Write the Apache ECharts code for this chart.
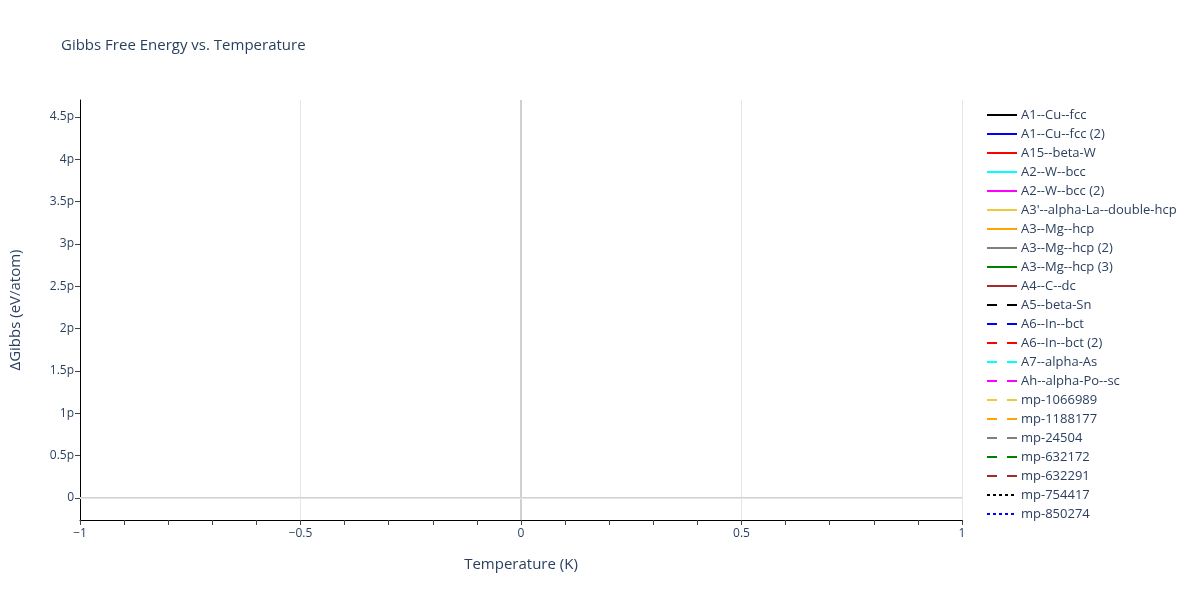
<!DOCTYPE html>
<html><head><meta charset="utf-8">
<script src="https://cdn.jsdelivr.net/npm/echarts@6/dist/echarts.min.js"></script>
<style>html,body{margin:0;padding:0;background:#fff}#c{width:1200px;height:600px}</style>
</head><body><div id="c"></div>
<script>
// Series names, colours and dash styles (from legend)
const seriesNames = ["A1--Cu--fcc","A1--Cu--fcc (2)","A15--beta-W","A2--W--bcc","A2--W--bcc (2)","A3'--alpha-La--double-hcp","A3--Mg--hcp","A3--Mg--hcp (2)","A3--Mg--hcp (3)","A4--C--dc","A5--beta-Sn","A6--In--bct","A6--In--bct (2)","A7--alpha-As","Ah--alpha-Po--sc","mp-1066989","mp-1188177","mp-24504","mp-632172","mp-632291","mp-754417","mp-850274"];
const seriesColors = ["#000000","#0000ff","#ff0000","#00ffff","#ff00ff","#f0c83c","#ffa500","#808080","#008000","#a52a2a","#000000","#0000ff","#ff0000","#00ffff","#ff00ff","#f0c83c","#ffa500","#808080","#008000","#a52a2a","#000000","#0000ff"];
const seriesDash = ["solid","solid","solid","solid","solid","solid","solid","solid","solid","solid",[10,10],[10,10],[10,10],[10,10],[10,10],[10,10],[10,10],[10,10],[10,10],[10,10],[3,3],[3,3]];
// Each series has a single point at T = 0 K (nothing drawn as a line)
const temperatures = [0];
const gibbsValues = seriesNames.map(() => [0]);
// Axis ticks
const yTicks = [0, 0.5e-12, 1e-12, 1.5e-12, 2e-12, 2.5e-12, 3e-12, 3.5e-12, 4e-12, 4.5e-12];
const yMin = -0.26e-12, yMax = 4.70e-12;

const fmtY = v => { if (Math.abs(v) < 1e-20) return '0'; return (Math.round(v * 1e13) / 10) + 'p'; };
const txt = '#2a3f5f';
const font = 'Open Sans, Verdana, sans-serif';

const series = seriesNames.map((n, i) => ({
  name: n, type: 'line', showSymbol: false, symbol: 'none',
  data: temperatures.map((t, j) => [t, gibbsValues[i][j]]),
  lineStyle: { color: seriesColors[i], type: seriesDash[i], width: 2 },
  itemStyle: { color: seriesColors[i] }
}));
// zero lines
series.push({
  type: 'line', data: [], silent: true, symbol: 'none',
  markLine: { silent: true, symbol: 'none', label: { show: false },
    lineStyle: { color: '#d0d0d0', width: 2, type: 'solid' },
    data: [{ xAxis: 0 }, { yAxis: 0 }] }
});
// y grid lines
series.push({
  type: 'line', data: [], silent: true, symbol: 'none', z: 1,
  markLine: { silent: true, symbol: 'none', label: { show: false },
    lineStyle: { color: '#e6e6e6', width: 1, type: 'solid' },
    data: yTicks.filter(v => v !== 0).map(v => ({ yAxis: v })) }
});

const chart = echarts.init(document.getElementById('c'));
chart.setOption({
  animation: false,
  title: { text: 'Gibbs Free Energy vs. Temperature', left: 56, top: 33,
    textStyle: { fontFamily: font, fontSize: 15, fontWeight: 'normal', color: txt } },
  grid: { left: 80, right: 238, top: 100, bottom: 80, containLabel: false },
  legend: {
    orient: 'vertical', left: 981, top: 103, itemGap: 5, itemWidth: 30, itemHeight: 14,
    padding: 5,
    itemStyle: { opacity: 0, borderWidth: 0 },
    data: seriesNames,
    textStyle: { fontFamily: font, fontSize: 13, color: txt, padding: [0, 0, 0, -1], lineHeight: 14 }
  },
  xAxis: {
    type: 'value', min: -1, max: 1, interval: 0.5,
    name: 'Temperature (K)', nameLocation: 'middle', nameGap: 37,
    nameTextStyle: { fontFamily: font, fontSize: 15, color: txt },
    axisLine: { show: true, onZero: false, lineStyle: { color: '#000', width: 1 } },
    axisTick: { show: true, length: 5, lineStyle: { color: '#444' } },
    minorTick: { show: true, splitNumber: 5, length: 5, lineStyle: { color: '#444' } },
    axisLabel: { fontFamily: font, fontSize: 12, color: txt, margin: 8,
      formatter: v => (v < 0 ? '\u2212' + Math.abs(v) : String(v)) },
    splitLine: { show: true, lineStyle: { color: '#e6e6e6', width: 1 } }
  },
  yAxis: {
    type: 'value', min: yMin, max: yMax,
    name: '\u0394Gibbs (eV/atom)', nameLocation: 'middle', nameGap: 57,
    nameTextStyle: { fontFamily: font, fontSize: 15, color: txt },
    axisLine: { show: true, onZero: false, lineStyle: { color: '#000', width: 1 } },
    axisTick: { show: true, length: 5, lineStyle: { color: '#444' }, customValues: yTicks },
    axisLabel: { fontFamily: font, fontSize: 12, color: txt, margin: 6, customValues: yTicks, formatter: fmtY },
    splitLine: { show: false }
  },
  series: series
});
</script></body></html>
